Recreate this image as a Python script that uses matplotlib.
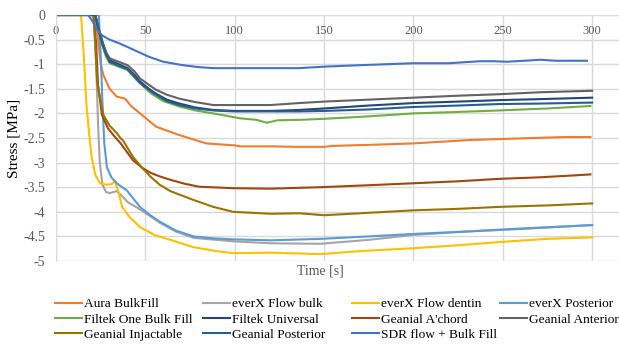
import matplotlib.pyplot as plt
from matplotlib.ticker import FuncFormatter

plt.rcParams['font.family'] = ['Liberation Serif', 'DejaVu Serif']
plt.rcParams['axes.unicode_minus'] = False

# Data
aura_t = [0, 22, 23.5, 25, 26.5, 30, 34, 38.6, 42, 47, 56, 69, 84, 100, 103, 120, 136, 150, 155, 175, 200, 232, 250, 267, 285, 299]
aura_y = [0, 0, -0.5, -1.0, -1.22, -1.5, -1.66, -1.7, -1.85, -2.0, -2.27, -2.44, -2.61, -2.65, -2.67, -2.67, -2.68, -2.68, -2.66, -2.64, -2.61, -2.54, -2.52, -2.5, -2.48, -2.48]

flowbulk_t = [0, 21, 22.5, 23.5, 24.5, 26, 28, 30, 32, 34, 37, 40, 47, 58, 67, 77, 99, 120, 148, 175, 200, 230, 260, 300]
flowbulk_y = [0, 0, -1.0, -2.2, -3.0, -3.45, -3.6, -3.62, -3.6, -3.58, -3.68, -3.8, -3.95, -4.22, -4.4, -4.53, -4.6, -4.64, -4.65, -4.57, -4.47, -4.4, -4.35, -4.27]

dentin_t = [0, 14, 15.5, 17, 18.5, 20, 22, 24.6, 28, 31, 33, 35, 37, 41, 47, 55, 64, 77, 90, 99, 120, 148, 170, 200, 225, 250, 275, 300]
dentin_y = [0, 0, -0.8, -1.8, -2.4, -2.9, -3.25, -3.42, -3.45, -3.44, -3.38, -3.6, -3.9, -4.1, -4.31, -4.47, -4.57, -4.72, -4.8, -4.84, -4.83, -4.86, -4.8, -4.74, -4.68, -4.61, -4.55, -4.52]

posterior_t = [0, 24, 25, 26, 27, 28.5, 31, 34, 37, 39.5, 43, 47, 52, 58, 67, 77, 88, 99, 120, 148, 175, 200, 230, 260, 300]
posterior_y = [0, 0, -0.8, -1.8, -2.6, -3.1, -3.3, -3.42, -3.5, -3.56, -3.72, -3.9, -4.05, -4.2, -4.38, -4.5, -4.54, -4.56, -4.58, -4.55, -4.5, -4.45, -4.4, -4.34, -4.27]

common_t = [0, 22, 24, 26, 28, 30, 35, 40, 44, 47, 52, 56, 62, 69, 78, 88, 100, 120, 136, 150, 175, 200, 225, 248, 271, 300]
anterior_y = [0, 0, -0.3, -0.55, -0.75, -0.88, -0.95, -1.02, -1.15, -1.29, -1.42, -1.52, -1.62, -1.7, -1.77, -1.83, -1.83, -1.83, -1.79, -1.76, -1.72, -1.68, -1.64, -1.61, -1.57, -1.54]
universal_y = [0, 0, -0.3, -0.55, -0.78, -0.92, -1.0, -1.08, -1.22, -1.35, -1.5, -1.6, -1.72, -1.8, -1.88, -1.93, -1.95, -1.95, -1.93, -1.9, -1.84, -1.79, -1.76, -1.73, -1.71, -1.68]
gposterior_y = [0, 0, -0.35, -0.6, -0.8, -0.95, -1.03, -1.1, -1.25, -1.38, -1.52, -1.62, -1.75, -1.83, -1.9, -1.94, -1.96, -1.96, -1.96, -1.95, -1.92, -1.87, -1.84, -1.81, -1.8, -1.78]

filtekone_t = [0, 22, 24, 26, 28, 30, 35, 40, 45, 53, 60, 69, 78, 88, 103, 112, 118, 124, 137, 150, 175, 200, 225, 248, 275, 299]
filtekone_y = [0, 0, -0.35, -0.62, -0.85, -0.98, -1.05, -1.12, -1.32, -1.59, -1.75, -1.86, -1.94, -2.0, -2.1, -2.13, -2.19, -2.14, -2.13, -2.11, -2.06, -2.0, -1.97, -1.94, -1.9, -1.85]

achord_t = [0, 21, 22.5, 23.5, 25.7, 29, 33, 36, 40, 43, 48, 53, 58, 64, 72, 80, 99, 120, 148, 175, 200, 225, 248, 270, 290, 299]
achord_y = [0, 0, -0.6, -1.42, -2.03, -2.3, -2.48, -2.6, -2.8, -2.95, -3.1, -3.21, -3.28, -3.35, -3.43, -3.49, -3.52, -3.53, -3.5, -3.46, -3.42, -3.38, -3.33, -3.3, -3.26, -3.24]

injact_t = [0, 21, 22, 23, 26.5, 30, 34, 36, 37.5, 40, 43, 48, 53, 58, 64, 77, 88, 99, 120, 136, 150, 175, 200, 225, 248, 275, 300]
injact_y = [0, 0, -0.6, -1.36, -2.03, -2.25, -2.4, -2.5, -2.55, -2.7, -2.88, -3.1, -3.29, -3.45, -3.58, -3.76, -3.9, -4.0, -4.04, -4.03, -4.07, -4.02, -3.97, -3.94, -3.9, -3.87, -3.83]

sdr_t = [0, 18, 20, 23, 26, 30, 35, 40, 46, 52, 60, 71, 80, 88, 100, 114, 136, 150, 170, 200, 220, 237, 245, 252, 262, 271, 280, 290, 297]
sdr_y = [0, 0, -0.1, -0.3, -0.42, -0.5, -0.57, -0.65, -0.75, -0.85, -0.95, -1.02, -1.06, -1.08, -1.08, -1.08, -1.08, -1.05, -1.02, -0.98, -0.98, -0.94, -0.94, -0.95, -0.93, -0.91, -0.93, -0.93, -0.93]

series = [
    ("Aura BulkFill", aura_t, aura_y, "#ED7D31"),
    ("everX Flow bulk", flowbulk_t, flowbulk_y, "#A5A5A5"),
    ("everX Flow dentin", dentin_t, dentin_y, "#FFC000"),
    ("everX Posterior", posterior_t, posterior_y, "#5B9BD5"),
    ("Filtek One Bulk Fill", filtekone_t, filtekone_y, "#70AD47"),
    ("Filtek Universal", common_t, universal_y, "#264478"),
    ("Geanial A'chord", achord_t, achord_y, "#9E480E"),
    ("Geanial Anterior", common_t, anterior_y, "#636363"),
    ("Geanial Injactable", injact_t, injact_y, "#997300"),
    ("Geanial Posterior", common_t, gposterior_y, "#255E91"),
    ("SDR flow + Bulk Fill", sdr_t, sdr_y, "#4472C4"),
]

fig = plt.figure(figsize=(6.19, 3.45), dpi=100)
ax = fig.add_axes([56 / 619, 1 - 261 / 345, 1 - 56 / 619, 246 / 345])

handles = []
for name, t, y, c in series:
    h, = ax.plot(t, y, color=c, lw=1.5, label=name)
    handles.append(h)

ax.set_xlim(0, 315)
ax.set_ylim(-5, 0)
ax.set_xticks(range(0, 301, 50))
ax.set_yticks([-5 + 0.5 * i for i in range(11)])
ax.yaxis.set_major_formatter(FuncFormatter(lambda v, p: f"{v:g}"))
ax.grid(True, color="#D9D9D9", lw=1)
ax.set_axisbelow(True)
for s in ax.spines.values():
    s.set_visible(False)
ax.spines['left'].set_visible(True)
ax.spines['left'].set_color("#D9D9D9")

ax.xaxis.set_ticks_position('top')
ax.tick_params(axis='x', length=0, pad=-16, labelsize=9, labelcolor="#595959")
ax.tick_params(axis='y', length=0, pad=8, labelsize=10, labelcolor="#595959")

ax.set_ylabel("Stress [MPa]", fontsize=11, labelpad=2)
fig.text(320 / 619, 1 - 271 / 345, "Time [s]", fontsize=10, color="#595959", ha="center", va="center")

# legend: four columns, filled row by row like the original
col_x = [55, 203, 352, 500]
for c, x in enumerate(col_x):
    fig.legend(handles=handles[c::4], loc="upper left",
               bbox_to_anchor=(x / 619, 1 - 298 / 345), frameon=False,
               fontsize=9.6, handlelength=2.0, handletextpad=0.15,
               labelspacing=0.22, borderaxespad=0, borderpad=0)

fig.savefig("out.png", dpi=100)
